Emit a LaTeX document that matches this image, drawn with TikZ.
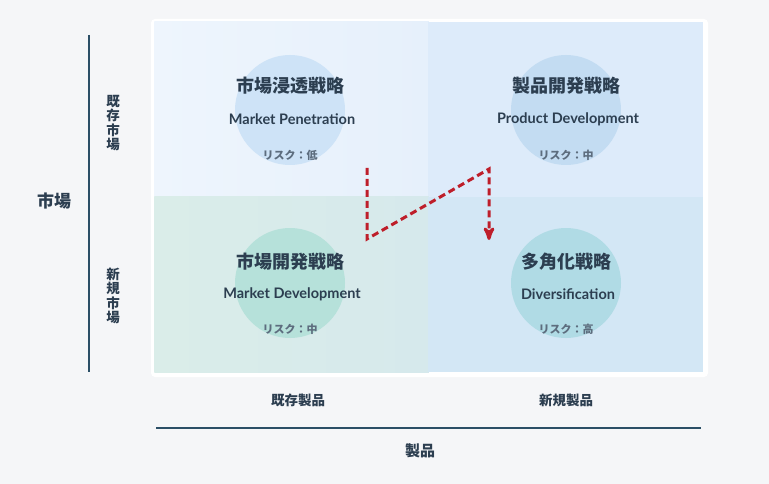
\documentclass[tikz,border=0pt]{standalone}
\usepackage{fontspec}
\setmainfont{Lato}[BoldFont={Lato Bold}]
\newfontfamily\jp{Noto Sans CJK JP}
\usepackage{tikz}
\usetikzlibrary{arrows}
\definecolor{bgc}{HTML}{F5F6F8}
\definecolor{ink}{HTML}{2C3E50}
\definecolor{soft}{HTML}{5D6D7E}
\definecolor{axisc}{HTML}{2B4F66}
\definecolor{trendc}{HTML}{BE1E2A}
\definecolor{tlA}{HTML}{EEF5FD}
\definecolor{tlB}{HTML}{E6F0FB}
\definecolor{trA}{HTML}{DDEBFA}
\definecolor{blA}{HTML}{DAEDE9}
\definecolor{blB}{HTML}{D6E9EC}
\definecolor{brA}{HTML}{D3E7F5}
\definecolor{c1c}{HTML}{CEE3F7}
\definecolor{c2c}{HTML}{C3DCF2}
\definecolor{c3c}{HTML}{B6E1DA}
\definecolor{c4c}{HTML}{B0DBE5}

\begin{document}
\begin{tikzpicture}[x=1pt,y=-1pt,>=stealth',
  quad/.style={inner sep=0pt,minimum width=274.5pt,minimum height=175.5pt},
  blob/.style={circle,inner sep=0pt,minimum size=110pt},
  title/.style={font=\jp\bfseries\fontsize{18}{18}\selectfont,text=ink},
  english/.style={font=\bfseries\fontsize{14.5}{14.5}\selectfont,text=ink},
  risk/.style={font=\jp\bfseries\fontsize{11}{11}\selectfont,text=soft},
  label/.style={font=\jp\bfseries\fontsize{13.5}{13.5}\selectfont,text=ink},
  stack/.style={font=\jp\bfseries\fontsize{13.5}{14.5}\selectfont,text=ink,align=center},
  trend/.style={->,dash pattern=on 7pt off 4pt,line width=3pt,draw=trendc}]

  \fill[bgc] (0,0) rectangle (769,484);
  \useasboundingbox (0,0) rectangle (769,484);

  % card and quadrants
  \fill[white,rounded corners=4pt] (151,19) rectangle (708,377);
  \node[quad,left color=tlA,right color=tlB] (tl) at (291.5,109.5) {};
  \node[quad,fill=trA] (tr) at (565.5,109.5) {};
  \node[quad,left color=blA,right color=blB] (bl) at (291.5,284.5) {};
  \node[quad,fill=brA] (br) at (565.5,284.5) {};

  \node[blob,fill=c1c] (c1) at (290,110) {};
  \node[blob,fill=c2c] (c2) at (566,110) {};
  \node[blob,fill=c3c] (c3) at (290,283) {};
  \node[blob,fill=c4c] (c4) at (566,283) {};

  % texts
  \node[title] (t1) at (290,86) {市場浸透戦略};
  \node[english] (e1) at (292,119) {Market Penetration};
  \node[risk] (r1) at (290,155) {リスク：低};
  \node[title] (t2) at (566,86) {製品開発戦略};
  \node[english] (e2) at (568,119) {Product Development};
  \node[risk] (r2) at (566,155) {リスク：中};
  \node[title] (t3) at (290,262) {市場開発戦略};
  \node[english] (e3) at (292,294) {Market Development};
  \node[risk] (r3) at (290,329) {リスク：中};
  \node[title] (t4) at (566,262) {多角化戦略};
  \node[english] (e4) at (568,294) {Diversification};
  \node[risk] (r4) at (566,329) {リスク：高};

  % axes
  \draw[axisc,line width=1.5pt] (89,35) -- (89,372);
  \node[label,font=\jp\bfseries\fontsize{17}{17}\selectfont] (market) at (54,201) {市場};
  \node[stack] (m1) at (113,123) {既\\存\\市\\場};
  \node[stack] (m2) at (113,296) {新\\規\\市\\場};
  \draw[axisc,line width=1.5pt] (156,428) -- (701,428);
  \node[label] (p1) at (298,400) {既存製品};
  \node[label] (p2) at (566,400) {新規製品};
  \node[label,font=\jp\bfseries\fontsize{15}{15}\selectfont] (product) at (420,451) {製品};

  % growth path
  \coordinate (s) at (367,168);
  \coordinate (k1) at (367,239);
  \coordinate (k2) at (489,169);
  \coordinate (f) at (489,240);
  \draw[trend] (s) -- (k1) -- (k2) -- (f);
\end{tikzpicture}
\end{document}
